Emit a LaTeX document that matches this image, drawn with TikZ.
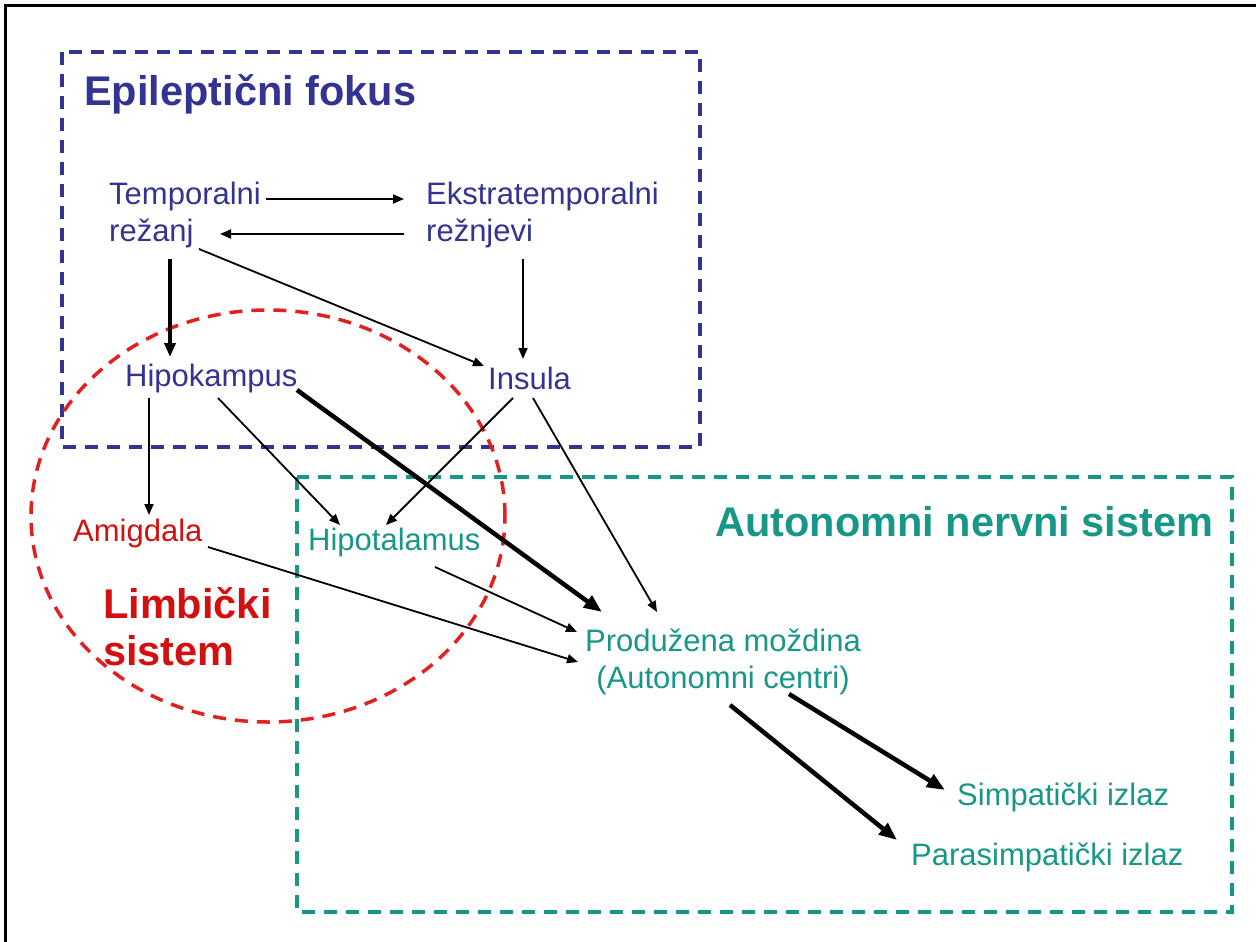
\documentclass[tikz,border=0pt]{standalone}
\usepackage{fontspec}
\setmainfont{Liberation Sans}
\usetikzlibrary{arrows.meta,calc}
\definecolor{eblue}{RGB}{51,51,145}
\definecolor{eteal}{RGB}{24,150,136}
\definecolor{ered}{RGB}{210,16,16}
\definecolor{edred}{RGB}{226,32,32}
\tikzset{
  lbl/.style={font=\fontsize{31}{37}\selectfont, inner sep=0pt, anchor=west},
  ttl/.style={font=\fontsize{41.5}{47}\selectfont\bfseries, inner sep=0pt, anchor=west},
  arr/.style={-{Triangle[length=11pt,width=9pt]}, line width=1.8pt, black},
  thickarr/.style={-{Triangle[length=18pt,width=14pt]}, line width=4.5pt, black},
  dbox/.style={line width=3.5pt, dash pattern=on 13pt off 9pt}
}
\begin{document}
\begin{tikzpicture}[x=1pt,y=-1pt]
\useasboundingbox (0,0) rectangle (1256,942);
% frame (top and left)
\draw[line width=3pt] (5,942) -- (5,6) -- (1256,6);
% boxes and ellipse
\draw[dbox, eblue] (62,52) rectangle (700,447);
\draw[dbox, eteal] (297,477) rectangle (1232,912);
\draw[dbox, edred] (268,516) ellipse [x radius=237pt, y radius=206pt];
% titles
\node[ttl, text=eblue] (ef) at (84,94) {Epileptični fokus};
\node[ttl, text=eteal] (ans) at (715,522) {Autonomni nervni sistem};
\node[ttl, text=ered, align=left] (lim) at (103,627) {Limbički\\sistem};
% nodes
\node[lbl, text=eblue, align=left] (tem) at (109,215) {Temporalni\\režanj};
\node[lbl, text=eblue, align=left] (ext) at (426,215) {Ekstratemporalni\\režnjevi};
\node[lbl, text=eblue] (hip) at (125,378) {Hipokampus};
\node[lbl, text=eblue] (ins) at (488,378) {Insula};
\node[lbl, text=ered] (ami) at (73,533) {Amigdala};
\node[lbl, text=eteal] (hpt) at (308,542) {Hipotalamus};
\node[lbl, text=eteal, align=center, anchor=center] (pro) at (723,662) {Produžena moždina\\(Autonomni centri)};
\node[lbl, text=eteal] (sim) at (957,797) {Simpatički izlaz};
\node[lbl, text=eteal] (par) at (911,857) {Parasimpatički izlaz};
% connectors
\draw[arr] ($(tem.west)+(157,-16)$) -- ($(ext.west)+(-22,-16)$);
\draw[arr] ($(ext.west)+(-22,19)$) -- ($(tem.west)+(111,19)$);
\draw[-{Triangle[length=14pt,width=11pt]}, line width=3.5pt] ($(tem.west)+(61,44)$) -- ($(hip.west)+(45,-21)$);
\draw[arr] ($(tem.west)+(90,34)$) -- ($(ins.west)+(-4,-12)$);
\draw[arr] ($(ext.west)+(97,44)$) -- ($(ins.west)+(35,-19)$);
\draw[arr] ($(hip.west)+(24,20)$) -- ($(ami.west)+(76,-18)$);
\draw[arr] ($(hip.west)+(93,20)$) -- ($(hpt.west)+(32,-17)$);
\draw[thickarr] ($(hip.west)+(172,12)$) -- ($(pro.center)+(-121,-50)$);
\draw[arr] ($(ins.west)+(25,20)$) -- ($(hpt.west)+(78,-17)$);
\draw[arr] ($(ins.west)+(45,20)$) -- ($(pro.center)+(-66,-50)$);
\draw[arr] ($(ami.west)+(135,14)$) -- ($(pro.center)+(-145,0)$);
\draw[arr] ($(hpt.west)+(127,25)$) -- ($(pro.center)+(-146,-30)$);
\draw[thickarr] ($(pro.center)+(7,43)$) -- ($(par.west)+(-14,-17)$);
\draw[thickarr] ($(pro.center)+(66,32)$) -- ($(sim.west)+(-12,-7)$);
\end{tikzpicture}
\end{document}
